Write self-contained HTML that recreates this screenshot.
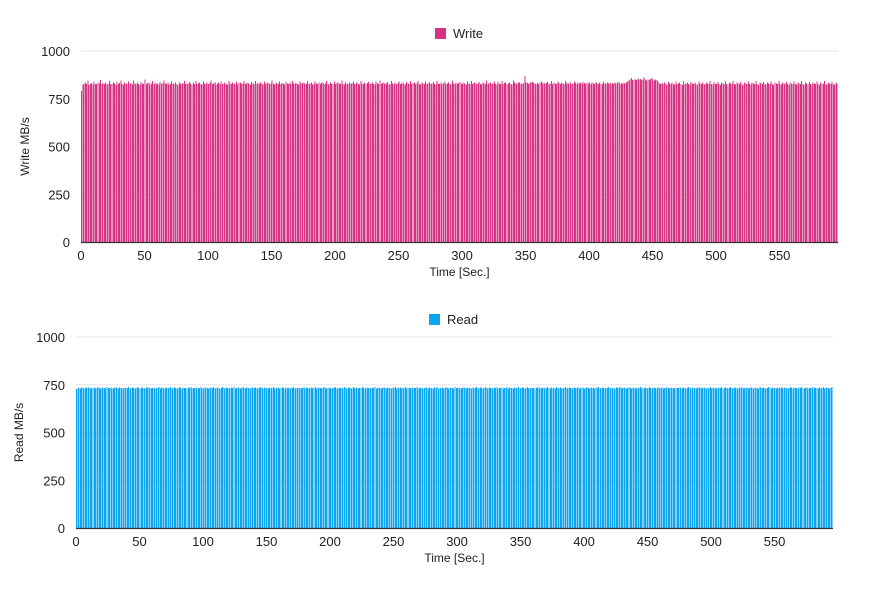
<!DOCTYPE html>
<html><head><meta charset="utf-8">
<style>
body{margin:0;background:#fff;font-family:"Liberation Sans",sans-serif;}
svg text{font-family:"Liberation Sans",sans-serif;fill:#222;}
</style></head>
<body>
<svg id="c" width="876" height="597"></svg>
<script>
const writeValues = [
790,825,830,835,828,845,822,826,832,824,840,828,826,835,830,848,826,832,828,836,
824,830,842,828,826,834,830,822,838,826,832,845,828,824,836,830,826,840,828,832,
824,846,830,826,834,828,822,838,830,826,850,828,832,836,824,830,842,826,834,828,
830,824,838,826,832,845,828,830,836,824,828,840,830,826,834,828,822,836,830,826,
832,844,828,830,826,838,830,824,836,828,842,826,830,834,828,824,840,830,826,836,
828,832,845,826,830,838,824,830,834,828,840,826,830,836,828,822,842,830,826,834,
830,828,840,824,832,836,828,830,844,826,830,834,828,824,838,830,826,842,828,832,
826,836,830,824,840,828,832,834,826,830,845,828,824,836,830,826,840,828,832,830,
824,838,830,826,834,828,842,830,826,836,828,824,840,830,832,834,826,830,844,828,
830,836,824,828,840,830,826,834,828,832,838,826,830,842,828,824,836,830,826,840,
828,832,834,826,830,845,828,824,838,830,826,836,828,832,840,826,830,834,828,824,
842,830,826,836,828,832,838,826,830,834,828,824,840,830,826,845,828,832,836,826,
830,838,824,828,842,830,826,834,828,832,840,826,830,836,828,824,838,830,826,842,
828,832,834,826,830,844,828,824,836,830,826,840,828,832,834,826,830,838,828,824,
842,830,826,836,828,832,840,826,830,834,828,824,845,830,826,836,828,832,838,826,
830,834,828,824,840,830,826,842,828,832,836,826,830,838,828,824,834,830,826,845,
828,832,836,826,830,840,828,824,838,830,826,842,828,832,834,826,830,836,828,824,
845,836,832,826,836,834,830,826,832,870,835,832,826,836,836,838,834,830,826,832,
826,834,840,830,836,828,832,838,826,830,844,828,836,830,826,840,832,828,836,830,
826,842,830,834,828,836,830,826,840,832,828,834,830,836,826,838,832,828,836,830,
834,828,836,830,826,838,832,828,836,830,826,840,832,828,834,830,836,826,832,828,
834,830,836,838,826,832,828,834,830,836,840,845,850,858,848,852,850,848,856,850,
854,848,852,860,850,846,852,848,854,858,850,846,852,848,840,830,826,832,828,834,
828,822,838,830,826,834,828,824,840,826,830,836,828,822,842,826,830,834,828,824,
838,830,826,836,828,822,840,830,826,834,828,824,836,830,826,842,828,824,834,830,
826,838,828,822,836,830,826,840,828,824,834,830,826,842,828,824,836,830,826,838,
828,822,834,830,826,840,828,824,836,830,826,842,828,822,834,830,826,838,828,824,
836,830,826,840,828,822,834,830,826,842,828,824,836,830,826,838,828,822,834,830,
826,840,828,824,836,830,826,842,828,822,834,830,826,838,828,824,836,830,826,840,
828,822,834,830,826,842,828,824,836,830,826,838,828,822,834,830
];
const readValues = [
728,732,734,730,736,732,734,730,736,732,738,730,734,732,736,730,734,738,732,730,
736,732,734,730,738,732,734,736,730,732,734,738,732,730,736,734,732,730,736,732,
734,738,730,732,736,734,730,732,738,734,730,736,732,734,730,736,732,738,730,734,
732,736,730,734,732,738,730,736,732,734,730,736,732,734,738,730,732,736,734,730,
732,738,734,730,736,732,734,730,736,732,738,730,734,732,736,730,734,732,738,732,
730,736,732,734,730,736,732,734,738,730,732,736,734,730,732,738,734,730,736,732,
734,730,736,732,738,730,734,732,736,730,734,738,732,730,736,732,734,730,738,732,
734,736,730,732,734,738,732,730,736,734,732,730,736,732,734,738,730,732,736,734,
730,732,738,734,730,736,732,734,730,736,732,738,730,734,732,736,730,734,732,738,
730,736,732,734,730,736,732,734,738,730,732,736,734,730,732,738,734,730,736,732,
734,730,736,732,738,730,734,732,736,730,734,738,732,730,736,732,734,730,738,732,
734,736,730,732,734,738,732,730,736,734,732,730,736,732,734,738,730,732,736,734,
730,732,738,734,730,736,732,734,730,736,732,738,730,734,732,736,730,734,732,738,
730,736,732,734,730,736,732,734,738,730,732,736,734,730,732,738,734,730,736,732,
734,730,736,732,738,730,734,732,736,730,734,738,732,730,736,732,734,730,738,732,
734,736,730,732,734,738,732,730,736,734,732,730,736,732,734,738,730,732,736,734,
730,732,738,734,730,736,732,734,730,736,732,738,730,734,732,736,730,734,732,738,
730,736,732,734,730,736,732,734,738,730,732,736,734,730,732,738,734,730,736,732,
734,730,736,732,738,730,734,732,736,730,734,738,732,730,736,732,734,730,738,732,
734,736,730,732,734,738,732,730,736,734,732,730,736,732,734,738,730,732,736,734,
730,732,738,734,730,736,732,734,730,736,732,738,730,734,732,736,730,734,732,738,
730,736,732,734,730,736,732,734,738,730,732,736,734,730,732,738,734,730,736,732,
734,730,736,732,738,730,734,732,736,730,734,738,732,730,736,732,734,730,738,732,
734,736,730,732,734,738,732,730,736,734,732,730,736,732,734,738,730,732,736,734,
730,732,738,734,730,736,732,734,730,736,732,738,730,734,732,736,730,734,732,738,
730,736,732,734,730,736,732,734,738,730,732,736,734,730,732,738,734,730,736,732,
734,730,736,732,738,730,734,732,736,730,734,738,732,730,736,732,734,730,738,732,
734,736,730,732,734,738,732,730,736,734,732,730,736,732,734,738,730,732,736,734,
730,732,738,734,730,736,732,734,730,736,732,738,730,734,732,736,730,734,732,738,
730,736,732,734,730,736,732,734,738,730,732,736,734,730,732,738
];
const yTicks = [0,250,500,750,1000];
const xTicks = [0,50,100,150,200,250,300,350,400,450,500,550];

const svg = document.getElementById('c');
const NS = 'http://www.w3.org/2000/svg';
function mk(tag, attrs, parent){const e=document.createElementNS(NS,tag);for(const k in attrs)e.setAttribute(k,attrs[k]);(parent||svg).appendChild(e);return e;}

function drawChart(cfg){
  const g = mk('g',{});
  
  
  const xs = v => cfg.x0 + (v/596)*(cfg.x1-cfg.x0);
  const ys = v => cfg.y0 - (v/1000)*(cfg.y0-cfg.y1);
  yTicks.forEach(t=>{
    const l = mk('line',{x1:cfg.x0,x2:cfg.x1,y1:ys(t),y2:ys(t),stroke:'#e6e6e6','stroke-width':1},g);
    
    
    const tx = mk('text',{x:cfg.x0-11,y:ys(t)+5,'text-anchor':'end','font-size':13},g);
    tx.textContent = t;
    
    
  });
  const bars = mk('g',{'shape-rendering':'crispEdges'},g);
  
  
  cfg.data.forEach((v,i)=>{
    const r = mk('rect',{x:xs(i),y:ys(v),width:1,height:ys(0)-ys(v),fill:cfg.color},bars);
    
    
  });
  const ax = mk('line',{x1:cfg.x0,x2:cfg.x1,y1:ys(0)+0.5,y2:ys(0)+0.5,stroke:'#333','stroke-width':1.2},g);
  
  
  xTicks.forEach(t=>{
    const tx = mk('text',{x:xs(t),y:cfg.y0+18,'text-anchor':'middle','font-size':13},g);
    tx.textContent = t;
    
    
  });
  const xt = mk('text',{x:(cfg.x0+cfg.x1)/2,y:cfg.y0+34,'text-anchor':'middle','font-size':12},g);
  xt.textContent = 'Time [Sec.]';
  
  
  const yt = mk('text',{x:0,y:0,'text-anchor':'middle','font-size':12,transform:`translate(${cfg.yTitleX},${(cfg.y0+cfg.y1)/2}) rotate(-90)`},g);
  yt.textContent = cfg.yTitle;
  
  
  const lg = mk('rect',{x:cfg.legendX,y:cfg.y1-23,width:11,height:11,fill:cfg.color},g);
  
  
  const lt = mk('text',{x:cfg.legendX+18,y:cfg.y1-13,'font-size':13},g);
  lt.textContent = cfg.label;
  
  
}
drawChart({name:'write-chart',data:writeValues,color:'#d63384',x0:81,x1:838,y0:242,y1:51,yTitle:'Write MB/s',yTitleX:29,legendX:435,label:'Write'});
drawChart({name:'read-chart',data:readValues,color:'#0ba5f0',x0:76,x1:833,y0:528,y1:337,yTitle:'Read MB/s',yTitleX:23,legendX:429,label:'Read'});
</script>
</body></html>
